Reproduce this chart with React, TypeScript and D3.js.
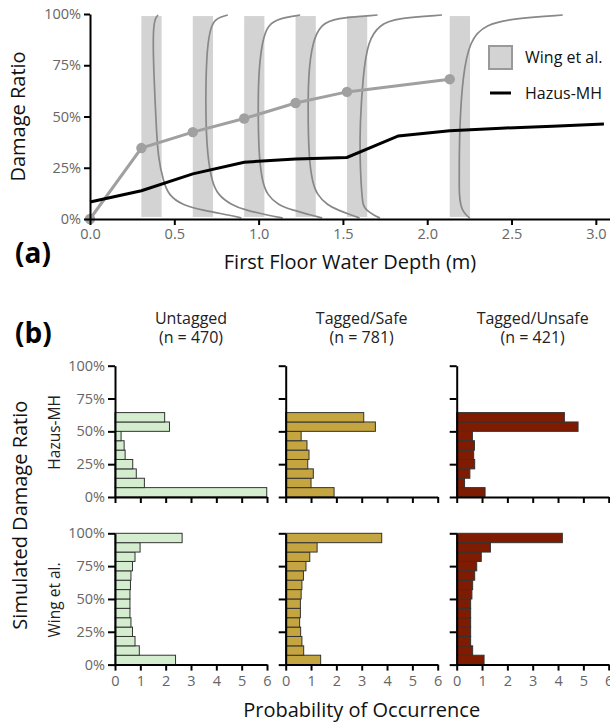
import { useEffect, useRef } from "react";
import * as d3 from "d3";

// panel (a): depth-damage curves
const wingDepths = [0, 0.3048, 0.6096, 0.9144, 1.2192, 1.524, 2.1336];
const wingMean = [0, 34.6, 42.4, 49.0, 56.6, 62.0, 68.2];
const hazusDepths = [0, 0.3048, 0.6096, 0.9144, 1.2192, 1.524, 1.8288, 2.1336, 2.4384, 2.7432, 3.048];
const hazusDamage = [8.3, 13.8, 22.0, 27.7, 29.3, 30.0, 40.5, 43.1, 44.3, 45.3, 46.3];
// sideways densities of the Wing et al. distributions (one per depth, skipping 0)
const densityLevels = [99.5, 98, 95, 87, 70, 46, 30, 18.5, 11.7, 6.8, 4.4, 1.5, 0.5];
const wingDensity = [
  [1.66, 1.4, 1.25, 1.16, 1.25, 1.48, 1.66, 2.2, 2.7, 4.1, 6.0, 9.2, 10.0],
  [3.5, 2.4, 1.9, 1.5, 1.3, 1.3, 1.5, 1.9, 2.5, 3.9, 5.2, 7.8, 9.0],
  [5.6, 3.6, 2.4, 1.8, 1.4, 1.4, 1.5, 1.8, 2.3, 3.4, 4.8, 7.0, 7.8],
  [8.2, 3.9, 2.6, 1.7, 1.25, 1.25, 1.35, 1.65, 2.15, 3.2, 4.2, 5.8, 6.4],
  [9.5, 5.0, 3.3, 2.1, 1.6, 1.3, 1.3, 1.4, 1.5, 1.6, 1.9, 2.8, 3.3],
  [11.3, 6.7, 3.5, 2.0, 1.3, 1.0, 0.95, 0.95, 0.95, 1.1, 1.25, 1.7, 2.0],
];
const densityUnit = 0.0593; // metres per density unit
const bandWidth = 0.12;
const depthTicks = [0, 0.5, 1, 1.5, 2, 2.5, 3];
const ratioTicks = [0, 25, 50, 75, 100];

// panel (b): histograms of simulated damage ratio
const tagGroups = ["Untagged", "Tagged/Safe", "Tagged/Unsafe"];
const groupCounts = [470, 781, 421];
const groupColors = ["#d5edcf", "#c5a53f", "#7f1b00"];
const modelNames = ["Hazus-MH", "Wing et al."];
const binCount = 14;
const hazusHist = [
  [5.99, 1.16, 0.84, 0.7, 0.4, 0.36, 0.24, 2.15, 1.96],
  [1.91, 1.0, 1.09, 0.87, 0.92, 0.84, 0.61, 3.54, 3.08],
  [1.12, 0.31, 0.52, 0.71, 0.67, 0.7, 0.62, 4.79, 4.25],
];
const wingHist = [
  [2.39, 0.96, 0.79, 0.69, 0.63, 0.59, 0.59, 0.59, 0.61, 0.63, 0.69, 0.79, 0.99, 2.65],
  [1.38, 0.71, 0.64, 0.59, 0.55, 0.58, 0.58, 0.61, 0.64, 0.7, 0.8, 0.95, 1.24, 3.79],
  [1.08, 0.63, 0.55, 0.55, 0.55, 0.55, 0.55, 0.6, 0.63, 0.71, 0.79, 0.97, 1.33, 4.17],
];
const probTicks = [0, 1, 2, 3, 4, 5, 6];

const FONT = "'Open Sans', sans-serif";

export default function App() {
  const ref = useRef<SVGSVGElement>(null);

  useEffect(() => {
    document.body.style.margin = "0";
    const svg = d3.select(ref.current);
    svg.selectAll("*").remove();
    svg.attr("font-family", FONT);

    const styleAxis = (g: any, labels: boolean) => {
      g.select(".domain").attr("stroke", "#000").attr("stroke-width", 2);
      g.selectAll(".tick line").attr("stroke", "#000").attr("stroke-width", 2);
      g.selectAll(".tick text")
        .attr("fill", "#666")
        .attr("font-size", 14.5)
        .attr("font-family", FONT)
        .style("display", labels ? null : "none");
    };

    // ---------- panel (a)
    const x = d3.scaleLinear().domain([0, 3.084]).range([90, 610]);
    const y = d3.scaleLinear().domain([0, 100]).range([219, 14]);
    const a = svg.append("g");

    wingDepths.slice(1).forEach((d) => {
      a.append("rect")
        .attr("x", x(d))
        .attr("width", x(d + bandWidth) - x(d))
        .attr("y", y(99))
        .attr("height", y(1) - y(99))
        .attr("fill", "#d3d3d3");
    });

    const densLine = d3
      .line<number>()
      .curve(d3.curveBasis)
      .y((_, i) => y(densityLevels[i]));
    wingDensity.forEach((dens, k) => {
      const d0 = wingDepths[k + 1];
      a.append("path")
        .attr("d", densLine.x((v) => x(d0 + v * densityUnit))(dens))
        .attr("fill", "none")
        .attr("stroke", "#888")
        .attr("stroke-width", 1.7);
    });

    const meanLine = d3
      .line<number>()
      .x((_, i) => x(wingDepths[i]))
      .y((v) => y(v));
    a.append("path")
      .attr("d", meanLine(wingMean))
      .attr("fill", "none")
      .attr("stroke", "#a0a0a0")
      .attr("stroke-width", 3);
    wingMean.forEach((v, i) => {
      a.append("circle")
        .attr("cx", x(wingDepths[i]))
        .attr("cy", y(v))
        .attr("r", 5.2)
        .attr("fill", "#a0a0a0");
    });

    const hazusLine = d3
      .line<number>()
      .x((_, i) => x(hazusDepths[i]))
      .y((v) => y(v));
    a.append("path")
      .attr("d", hazusLine(hazusDamage))
      .attr("fill", "none")
      .attr("stroke", "#000")
      .attr("stroke-width", 3);

    const ax = a
      .append("g")
      .attr("transform", `translate(0,${y(0)})`)
      .call(d3.axisBottom(x).tickValues(depthTicks).tickFormat(d3.format(".1f")).tickSize(6).tickSizeOuter(0).tickPadding(4));
    styleAxis(ax, true);
    const ay = a
      .append("g")
      .attr("transform", `translate(${x(0)},0)`)
      .call(d3.axisLeft(y).tickValues(ratioTicks).tickFormat((d) => `${d}%`).tickSize(6).tickSizeOuter(0).tickPadding(3));
    styleAxis(ay, true);

    a.append("text")
      .text("First Floor Water Depth (m)")
      .attr("x", 350)
      .attr("y", 269)
      .attr("text-anchor", "middle")
      .attr("font-size", 20)
      .attr("fill", "#111");
    a.append("text")
      .text("Damage Ratio")
      .attr("transform", `translate(25,${y(50)}) rotate(-90)`)
      .attr("text-anchor", "middle")
      .attr("font-size", 20)
      .attr("fill", "#111");
    a.append("text")
      .text("(a)")
      .attr("x", 15)
      .attr("y", 263)
      .attr("font-size", 28)
      .attr("font-weight", "bold")
      .attr("fill", "#000");

    // legend
    a.append("rect")
      .attr("x", 489)
      .attr("y", 46)
      .attr("width", 23)
      .attr("height", 23)
      .attr("fill", "#d3d3d3")
      .attr("stroke", "#999")
      .attr("stroke-width", 2);
    a.append("text").text("Wing et al.").attr("x", 525).attr("y", 63).attr("font-size", 16).attr("fill", "#111");
    a.append("line")
      .attr("x1", 490)
      .attr("x2", 511)
      .attr("y1", 93)
      .attr("y2", 93)
      .attr("stroke", "#000")
      .attr("stroke-width", 3);
    a.append("text").text("Hazus-MH").attr("x", 525).attr("y", 99).attr("font-size", 16).attr("fill", "#111");

    // ---------- panel (b)
    const colLeft = [115, 285.7, 456.7];
    const colWidth = 152;
    const rowTop = [365.7, 533.3];
    const rowHeight = 131.3;
    const b = svg.append("g");

    const rows = [hazusHist, wingHist];
    rows.forEach((hist, r) => {
      const yb = d3.scaleLinear().domain([0, 100]).range([rowTop[r] + rowHeight, rowTop[r]]);
      tagGroups.forEach((_, c) => {
        const xb = d3.scaleLinear().domain([0, 6]).range([colLeft[c], colLeft[c] + colWidth]);
        const g = b.append("g");
        g.selectAll("rect")
          .data(hist[c])
          .join("rect")
          .attr("x", xb(0))
          .attr("y", (_, i) => yb(((i + 1) / binCount) * 100))
          .attr("width", (v) => xb(v) - xb(0))
          .attr("height", (_, i) => yb((i / binCount) * 100) - yb(((i + 1) / binCount) * 100))
          .attr("fill", groupColors[c])
          .attr("stroke", "#333")
          .attr("stroke-width", 1);
        const gx = g
          .append("g")
          .attr("transform", `translate(0,${yb(0)})`)
          .call(d3.axisBottom(xb).tickValues(probTicks).tickFormat(d3.format("d")).tickSize(6).tickSizeOuter(0).tickPadding(5));
        styleAxis(gx, r === 1);
        const gy = g
          .append("g")
          .attr("transform", `translate(${xb(0)},0)`)
          .call(d3.axisLeft(yb).tickValues(ratioTicks).tickFormat((d) => `${d}%`).tickSize(7).tickSizeOuter(0).tickPadding(3));
        styleAxis(gy, c === 0);
      });
      b.append("text")
        .text(modelNames[r])
        .attr("transform", `translate(60,${rowTop[r] + rowHeight / 2 + 1}) rotate(-90)`)
        .attr("text-anchor", "middle")
        .attr("font-size", 15.5)
        .attr("fill", "#222");
    });

    tagGroups.forEach((t, c) => {
      const cx = colLeft[c] + colWidth / 2;
      b.append("text").text(t).attr("x", cx).attr("y", 324).attr("text-anchor", "middle").attr("font-size", 16).attr("fill", "#222");
      b.append("text")
        .text(`(n = ${groupCounts[c]})`)
        .attr("x", cx)
        .attr("y", 343)
        .attr("text-anchor", "middle")
        .attr("font-size", 16)
        .attr("fill", "#222");
    });

    b.append("text")
      .text("(b)")
      .attr("x", 15)
      .attr("y", 343)
      .attr("font-size", 28)
      .attr("font-weight", "bold")
      .attr("fill", "#000");
    b.append("text")
      .text("Simulated Damage Ratio")
      .attr("transform", `translate(27,${(rowTop[0] + rowTop[1] + rowHeight) / 2}) rotate(-90)`)
      .attr("text-anchor", "middle")
      .attr("font-size", 20)
      .attr("fill", "#111");
    b.append("text")
      .text("Probability of Occurrence")
      .attr("x", colLeft[1] + colWidth / 2)
      .attr("y", 717)
      .attr("text-anchor", "middle")
      .attr("font-size", 20)
      .attr("fill", "#111");
  }, []);

  return <svg ref={ref} width={610} height={726} style={{ display: "block" }} />;
}
